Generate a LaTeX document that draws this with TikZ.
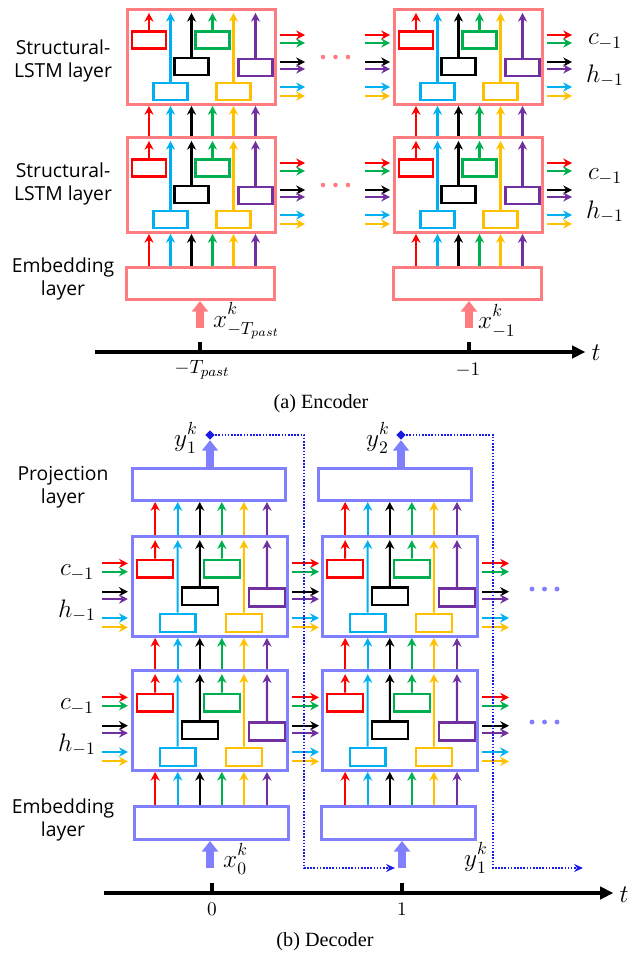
\documentclass[tikz,border=0pt]{standalone}
\usepackage{fontspec}
\setsansfont{Open Sans}
\newfontfamily\capfont{Liberation Serif}
\usepackage{tikz}
\usetikzlibrary{positioning,arrows.meta,shapes.geometric}
\definecolor{encol}{HTML}{FF7C80}
\definecolor{decol}{HTML}{8080FF}
\definecolor{fbcol}{HTML}{1A1AE8}
\definecolor{cR}{HTML}{FF0000}
\definecolor{cC}{HTML}{00B0F0}
\definecolor{cK}{HTML}{000000}
\definecolor{cG}{HTML}{00B050}
\definecolor{cY}{HTML}{FFC000}
\definecolor{cP}{HTML}{7030A0}
% side stubs (index/colour/offset) and gates (name/colour)
\def\rowlist{1/cR/27,2/cG/35,3/cK/54,4/cP/61,5/cC/79,6/cY/88}
\def\gatelist{r/cR,c/cC,k/cK,g/cG,y/cY,p/cP}

\begin{document}
\begin{tikzpicture}[x=0.02cm,y=-0.02cm,
  arr/.style={line width=1.15pt,-{Stealth[length=5pt,width=5.2pt]}},
  fat/.style={line width=4.5pt,-{Triangle[length=6pt,width=9pt]}},
  cellbox/.style={draw,line width=1.7pt,anchor=north west,inner sep=0,
                  minimum width=2.96cm,minimum height=1.9cm},
  gate/.style={draw,line width=1.25pt,inner sep=0,minimum width=0.68cm,minimum height=0.34cm},
  layer/.style={draw,line width=1.7pt,anchor=north west,inner sep=0,minimum height=0.64cm},
  lab/.style={font=\sffamily\fontsize{11}{13}\selectfont,align=center},
  mlab/.style={font=\fontsize{14.5}{16}\selectfont},
  tlab/.style={font=\fontsize{11}{13}\selectfont},
  captxt/.style={font=\capfont\fontsize{11.5}{14}\selectfont},
  axis/.style={line width=2.2pt,-{Triangle[length=7.5pt,width=7pt]}},
  tickline/.style={line width=2pt},
  diam/.style={diamond,fill=fbcol,inner sep=0,minimum size=5.5pt},
  fb/.style={fbcol,line width=0.9pt,dash pattern=on 0.9pt off 0.9pt,
             -{Stealth[length=5pt,width=4.5pt]}},
  cell/.pic={
    \node[cellbox,draw=#1] (-box) at (0,0) {};
    \node[gate,draw=cR] (-r) at (23,32) {};
    \node[gate,draw=cC] (-c) at (44.5,83.5) {};
    \node[gate,draw=cK] (-k) at (65.5,58.5) {};
    \node[gate,draw=cG] (-g) at (86.5,32) {};
    \node[gate,draw=cY] (-y) at (107.5,83.5) {};
    \node[gate,draw=cP] (-p) at (129.5,59.5) {};
    \foreach \g/\col in \gatelist
      \draw[arr,color=\col] (-\g) -- ([yshift=-2.8pt]-box.north -| -\g);
    \foreach \n/\col/\yy in \rowlist {
      \coordinate (-i\n) at (-3,\yy);
      \coordinate (-o\n) at (179,\yy);
      \draw[arr,color=\col] ([xshift=1.5pt]-box.east |- -o\n) -- (-o\n);
    }
  }]
\useasboundingbox (0,0) rectangle (639,954);
% encoder
\pic (e1) at (126,8) {cell=encol};
\pic (e2) at (126,136) {cell=encol};
\pic (e3) at (393,8) {cell=encol};
\pic (e4) at (393,136) {cell=encol};
\node[layer,draw=encol,minimum width=2.96cm] (emb1) at (125,266) {};
\node[layer,draw=encol,minimum width=2.96cm] (emb2) at (392,266) {};
\node[lab] (le1) at (63,61) {Structural-\\LSTM layer};
\node[lab] (le2) at (63,184) {Structural-\\LSTM layer};
\node[lab] (le3) at (63,279) {Embedding\\layer};
\foreach \g/\col in \gatelist {
  \draw[arr,color=\col] (emb1.north -| e2-\g) -- (e2-box.south -| e2-\g);
  \draw[arr,color=\col] (e2-box.north -| e2-\g) -- (e1-box.south -| e2-\g);
  \draw[arr,color=\col] (emb2.north -| e4-\g) -- (e4-box.south -| e4-\g);
  \draw[arr,color=\col] (e4-box.north -| e4-\g) -- (e3-box.south -| e4-\g);
}
\foreach \n/\col/\yy in \rowlist {
  \draw[arr,color=\col] (e3-i\n) ++(-25,0) -- (e3-i\n);
  \draw[arr,color=\col] (e4-i\n) ++(-25,0) -- (e4-i\n);
}
\foreach \d in {0,12.5,25} {
  \fill[encol] (323+\d,57) circle (1.3pt);
  \fill[encol] (323+\d,185) circle (1.3pt);
}
\node[mlab] (c1) at (605,42) {$c_{-1}$};
\node[mlab] (h1) at (605,76) {$h_{-1}$};
\node[mlab] (c2) at (605,177) {$c_{-1}$};
\node[mlab] (h2) at (605,212) {$h_{-1}$};
\coordinate (xa) at (200,328);
\coordinate (xb) at (469,328);
\draw[fat,encol] (xa) -- (emb1.south -| xa);
\draw[fat,encol] (xb) -- (emb2.south -| xb);
\node[mlab,anchor=west] (xla) at (207,321) {${x\mathstrut}^{k}_{-T_{past}}$};
\node[mlab,anchor=west] (xlb) at (472,321) {${x\mathstrut}^{k}_{-1}$};
\coordinate (ta0) at (95,352);
\node[mlab] (ta) at (596,353) {$t$};
\draw[axis] (ta0) -- (ta0 -| ta.west);
\coordinate (tka) at (200,352);
\coordinate (tkb) at (469,352);
\draw[tickline] (tka) -- ++(0,-10);
\draw[tickline] (tkb) -- ++(0,-10);
\node[tlab] (tla) at (202,370) {$-T_{past}$};
\node[tlab] (tlb) at (468,370) {$-1$};
\node[captxt] (capa) at (321,404) {(a) Encoder};
% decoder
\pic[scale=1.05,transform shape] (d1) at (131,535) {cell=decol};
\pic[scale=1.05,transform shape] (d2) at (131,669) {cell=decol};
\pic[scale=1.05,transform shape] (d3) at (321,535) {cell=decol};
\pic[scale=1.05,transform shape] (d4) at (321,669) {cell=decol};
\node[layer,draw=decol,minimum width=3.06cm] (proj1) at (131,467) {};
\node[layer,draw=decol,minimum width=3.06cm] (proj2) at (317,467) {};
\node[layer,draw=decol,minimum width=3.08cm,minimum height=0.66cm] (demb1) at (133,805) {};
\node[layer,draw=decol,minimum width=3.08cm,minimum height=0.66cm] (demb2) at (320,805) {};
\node[lab] (ld1) at (63,487) {Projection\\layer};
\node[lab] (ld2) at (63,820) {Embedding\\layer};
\foreach \g/\col in \gatelist {
  \draw[arr,color=\col] (demb1.north -| d2-\g) -- (d2-box.south -| d2-\g);
  \draw[arr,color=\col] (d2-box.north -| d2-\g) -- (d1-box.south -| d2-\g);
  \draw[arr,color=\col] (d1-box.north -| d1-\g) -- (proj1.south -| d1-\g);
  \draw[arr,color=\col] (demb2.north -| d4-\g) -- (d4-box.south -| d4-\g);
  \draw[arr,color=\col] (d4-box.north -| d4-\g) -- (d3-box.south -| d4-\g);
  \draw[arr,color=\col] (d3-box.north -| d3-\g) -- (proj2.south -| d3-\g);
}
\foreach \n/\col/\yy in \rowlist {
  \draw[arr,color=\col] (d1-i\n) ++(-26,0) -- (d1-i\n);
  \draw[arr,color=\col] (d2-i\n) ++(-26,0) -- (d2-i\n);
}
\foreach \d in {0,12.5,25} {
  \fill[decol] (532+\d,589) circle (1.4pt);
  \fill[decol] (532+\d,722) circle (1.4pt);
}
\node[mlab] (c3) at (77,573) {$c_{-1}$};
\node[mlab] (h3) at (77,611) {$h_{-1}$};
\node[mlab] (c4) at (77,707) {$c_{-1}$};
\node[mlab] (h4) at (77,745) {$h_{-1}$};
\node[diam] (yd1) at (210,435) {};
\node[diam] (yd2) at (401,435) {};
\draw[fat,decol] (proj1.north -| yd1) -- (yd1.south);
\draw[fat,decol] (proj2.north -| yd2) -- (yd2.south);
\node[mlab,anchor=east] (yl1) at (204,438) {${y\mathstrut}^{k}_{1}$};
\node[mlab,anchor=east] (yl2) at (396,438) {${y\mathstrut}^{k}_{2}$};
\coordinate (xc) at (210,868);
\coordinate (xd) at (402,868);
\coordinate (fb1) at (304,868);
\coordinate (fb2) at (493,868);
\coordinate (fbe) at (583,868);
\draw[fat,decol] (xc) -- (demb1.south -| xc);
\draw[fat,decol] (xd) -- (demb2.south -| xd);
\draw[fb] (yd1) -| (fb1) -- ([xshift=-4pt]xd);
\draw[fb] (yd2) -| (fb2) -- (fbe);
\node[mlab,anchor=west] (xlc) at (217,859) {${x\mathstrut}^{k}_{0}$};
\node[mlab,anchor=east] (yl3) at (494,858) {${y\mathstrut}^{k}_{1}$};
\coordinate (tb0) at (104,893);
\node[mlab] (tb) at (624,895) {$t$};
\draw[axis] (tb0) -- (tb0 -| tb.west);
\coordinate (tkc) at (212,893);
\coordinate (tkd) at (402,893);
\draw[tickline] (tkc) -- ++(0,-10);
\draw[tickline] (tkd) -- ++(0,-10);
\node[tlab] (tlc) at (212,909) {$0$};
\node[tlab] (tld) at (402,909) {$1$};
\node[captxt] (capb) at (325,942) {(b) Decoder};
\end{tikzpicture}
\end{document}
